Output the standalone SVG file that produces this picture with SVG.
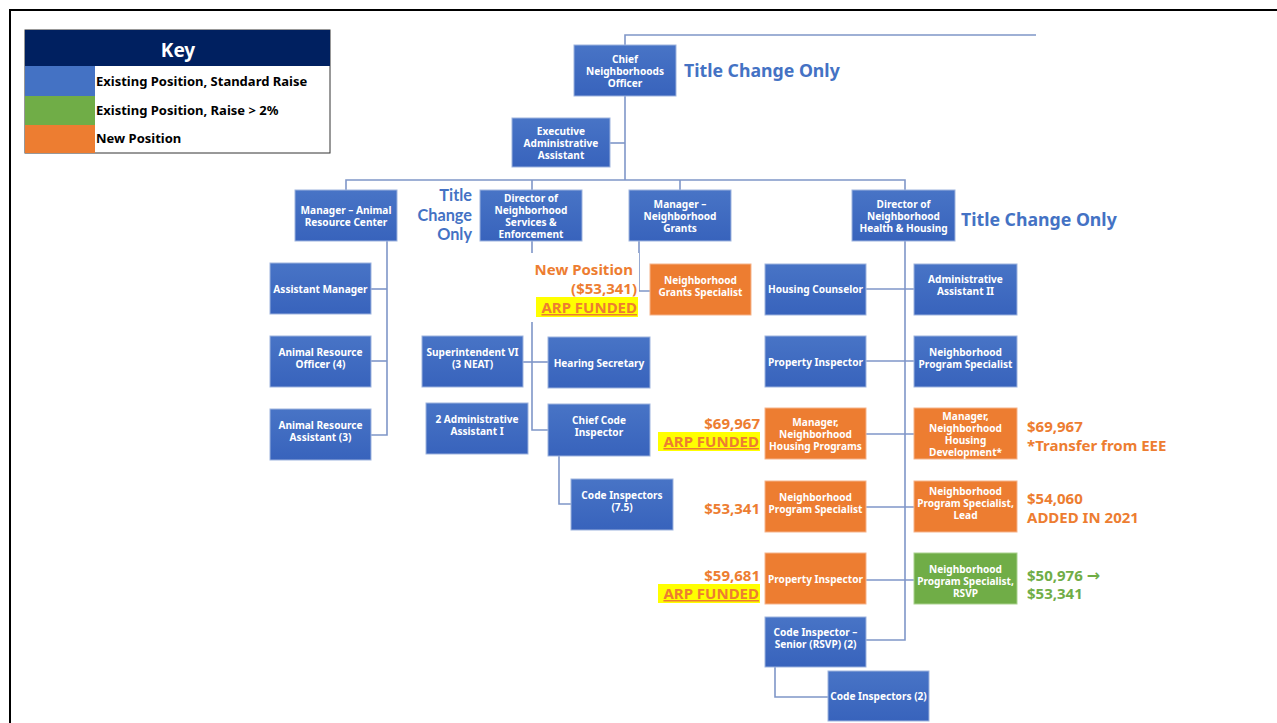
<svg xmlns="http://www.w3.org/2000/svg" width="1277" height="723" viewBox="0 0 1277 723">
<defs>
<linearGradient id="gb" x1="0" y1="0" x2="0" y2="1"><stop offset="0" stop-color="#4874C6"/><stop offset="1" stop-color="#3863BC"/></linearGradient>
<style>
.b{fill:url(#gb);stroke:#9DB3DE;stroke-width:1}
.o{fill:#ED7D31;stroke:#F5B38A;stroke-width:1}
.g{fill:#70AD47;stroke:#A9D18E;stroke-width:1}
.t{font-family:"Noto Sans","Open Sans",sans-serif;font-weight:bold;font-size:10.1px;fill:#FFFFFF;text-anchor:middle}
.c{fill:none;stroke:#7F96C8;stroke-width:1.6}
.lb{font-family:"Noto Sans","Open Sans",sans-serif;font-weight:bold;font-size:17.7px;fill:#4472C4}
.lo{font-family:"Noto Sans","Open Sans",sans-serif;font-weight:bold;font-size:15px;fill:#ED7D31}
.lg{font-family:"Noto Sans","Open Sans",sans-serif;font-weight:bold;font-size:15px;fill:#70AD47}
.hl{fill:#FFFF00}
.k{font-family:"Noto Sans","Open Sans",sans-serif;font-weight:bold;font-size:13px;fill:#000000}
</style>
</defs>
<rect x="0" y="0" width="1277" height="723" fill="#FFFFFF"/>
<path d="M10 723 V10 H1277" fill="none" stroke="#000000" stroke-width="2"/>

<g id="key">
<rect x="25" y="30" width="305" height="123" fill="#FFFFFF" stroke="#333333" stroke-width="1"/>
<rect x="25" y="30" width="305" height="36" fill="#002060"/>
<text x="178" y="57" font-family="Noto Sans, sans-serif" font-weight="bold" font-size="19" fill="#FFFFFF" text-anchor="middle">Key</text>
<rect x="25" y="66" width="70" height="30" fill="#4472C4"/>
<rect x="25" y="96" width="70" height="29" fill="#70AD47"/>
<rect x="25" y="125" width="70" height="28" fill="#ED7D31"/>
<text class="k" x="96" y="86">Existing Position, Standard Raise</text>
<text class="k" x="96" y="115">Existing Position, Raise &gt; 2%</text>
<text class="k" x="96" y="143">New Position</text>
</g>

<g id="connectors">
<path class="c" d="M625 45 V35 H1036"/>
<path class="c" d="M625 96 V180"/>
<path class="c" d="M610 143 H625"/>
<path class="c" d="M346 190 V180 H905 V640 H866"/>
<path class="c" d="M532 180 V190"/>
<path class="c" d="M680 180 V190"/>
<path class="c" d="M387 241 V435 H371"/>
<path class="c" d="M371 289 H387"/>
<path class="c" d="M371 361 H387"/>
<path class="c" d="M532 241 V430 H548"/>
<path class="c" d="M523 362 H548"/>
<path class="c" d="M559 456 V504 H571"/>
<path class="c" d="M639 241 V291 H650"/>
<path class="c" d="M866 289 H914"/>
<path class="c" d="M866 361 H914"/>
<path class="c" d="M866 434 H914"/>
<path class="c" d="M866 507 H914"/>
<path class="c" d="M866 580 H914"/>
<path class="c" d="M775 667 V697 H828"/>
</g>

<g id="chief"><rect class="b" x="574" y="45" width="102" height="51"/>
<text class="t" x="625" y="62.5">Chief</text><text class="t" x="625" y="74.5">Neighborhoods</text><text class="t" x="625" y="86.5">Officer</text></g>
<text class="lb" x="684" y="77">Title Change Only</text>

<g id="exec"><rect class="b" x="512" y="118" width="98" height="49"/>
<text class="t" x="561" y="134.5">Executive</text><text class="t" x="561" y="146.5">Administrative</text><text class="t" x="561" y="158.5">Assistant</text></g>

<g id="mgr-animal"><rect class="b" x="295" y="190" width="102" height="51"/>
<text class="t" x="346" y="213.5">Manager – Animal</text><text class="t" x="346" y="225.5">Resource Center</text></g>

<g id="dir-nse"><rect class="b" x="480" y="190" width="102" height="51"/>
<text class="t" x="531" y="201.5">Director of</text><text class="t" x="531" y="213.5">Neighborhood</text><text class="t" x="531" y="225.5">Services &amp;</text><text class="t" x="531" y="237.5">Enforcement</text></g>
<text style="font-family:Lato,'Noto Sans',sans-serif;font-weight:bold;font-size:16.3px;fill:#4472C4" text-anchor="end"><tspan x="472" y="201">Title</tspan><tspan x="472" y="220.5">Change</tspan><tspan x="472" y="240">Only</tspan></text>

<g id="mgr-grants"><rect class="b" x="629" y="190" width="102" height="51"/>
<text class="t" x="680" y="207.5">Manager –</text><text class="t" x="680" y="219.5">Neighborhood</text><text class="t" x="680" y="231.5">Grants</text></g>

<g id="dir-nhh"><rect class="b" x="852" y="190" width="103" height="51"/>
<text class="t" x="903.5" y="207.5">Director of</text><text class="t" x="903.5" y="219.5">Neighborhood</text><text class="t" x="903.5" y="231.5">Health &amp; Housing</text></g>
<text class="lb" x="961" y="226">Title Change Only</text>

<g id="asst-mgr"><rect class="b" x="270" y="263" width="101" height="51"/>
<text class="t" x="320.5" y="292.5">Assistant Manager</text></g>
<g id="aro"><rect class="b" x="270" y="336" width="101" height="51"/>
<text class="t" x="320.5" y="355.5">Animal Resource</text><text class="t" x="320.5" y="367.5">Officer (4)</text></g>
<g id="ara"><rect class="b" x="270" y="409" width="101" height="51"/>
<text class="t" x="320.5" y="428.5">Animal Resource</text><text class="t" x="320.5" y="440.5">Assistant (3)</text></g>

<g id="new-pos-label">
<rect x="528" y="253" width="111" height="69" fill="#FFFFFF"/>
<text class="lo" x="633" y="275" text-anchor="end">New Position</text>
<text class="lo" x="637" y="294" text-anchor="end">($53,341)</text>
<rect class="hl" x="536" y="297" width="102" height="20"/>
<text class="lo" x="637" y="313" text-anchor="end" text-decoration="underline">ARP FUNDED</text>
</g>

<g id="grants-spec"><rect class="o" x="650" y="264" width="101" height="51"/>
<text class="t" x="700.5" y="283.5">Neighborhood</text><text class="t" x="700.5" y="295.5">Grants Specialist</text></g>

<g id="superintendent"><rect class="b" x="422" y="336" width="101" height="51"/>
<text class="t" x="472.5" y="355.5">Superintendent VI</text><text class="t" x="472.5" y="367.5">(3 NEAT)</text></g>
<g id="hearing-sec"><rect class="b" x="548" y="337" width="102" height="51"/>
<text class="t" x="599" y="366.5">Hearing Secretary</text></g>
<g id="admin-asst-1"><rect class="b" x="426" y="403" width="102" height="51"/>
<text class="t" x="477" y="422.5">2 Administrative</text><text class="t" x="477" y="434.5">Assistant I</text></g>
<g id="chief-code"><rect class="b" x="548" y="404" width="102" height="52"/>
<text class="t" x="599" y="424">Chief Code</text><text class="t" x="599" y="436">Inspector</text></g>
<g id="code-insp-75"><rect class="b" x="571" y="479" width="102" height="51"/>
<text class="t" x="622" y="498.5">Code Inspectors</text><text class="t" x="622" y="510.5">(7.5)</text></g>

<g id="housing-counselor"><rect class="b" x="765" y="264" width="101" height="51"/>
<text class="t" x="815.5" y="293">Housing Counselor</text></g>
<g id="admin-asst-2"><rect class="b" x="914" y="264" width="103" height="51"/>
<text class="t" x="965.5" y="283">Administrative</text><text class="t" x="965.5" y="295">Assistant II</text></g>
<g id="prop-insp-blue"><rect class="b" x="765" y="336" width="101" height="51"/>
<text class="t" x="815.5" y="365.5">Property Inspector</text></g>
<g id="nps-blue"><rect class="b" x="914" y="336" width="103" height="51"/>
<text class="t" x="965.5" y="355.5">Neighborhood</text><text class="t" x="965.5" y="367.5">Program Specialist</text></g>

<g id="mgr-nhp"><rect class="o" x="765" y="408" width="101" height="51"/>
<text class="t" x="815.5" y="425.5">Manager,</text><text class="t" x="815.5" y="437.5">Neighborhood</text><text class="t" x="815.5" y="449.5">Housing Programs</text></g>
<g id="mgr-nhd"><rect class="o" x="914" y="408" width="103" height="51"/>
<text class="t" x="965.5" y="419.5">Manager,</text><text class="t" x="965.5" y="431.5">Neighborhood</text><text class="t" x="965.5" y="443.5">Housing</text><text class="t" x="965.5" y="455.5">Development*</text></g>
<g id="nps-orange"><rect class="o" x="765" y="481" width="101" height="51"/>
<text class="t" x="815.5" y="500.5">Neighborhood</text><text class="t" x="815.5" y="512.5">Program Specialist</text></g>
<g id="nps-lead"><rect class="o" x="914" y="481" width="103" height="51"/>
<text class="t" x="965.5" y="494.5">Neighborhood</text><text class="t" x="965.5" y="506.5">Program Specialist,</text><text class="t" x="965.5" y="518.5">Lead</text></g>
<g id="prop-insp-orange"><rect class="o" x="765" y="553" width="101" height="51"/>
<text class="t" x="815.5" y="582.5">Property Inspector</text></g>
<g id="nps-rsvp"><rect class="g" x="914" y="553" width="103" height="51"/>
<text class="t" x="965.5" y="572.5">Neighborhood</text><text class="t" x="965.5" y="584.5">Program Specialist,</text><text class="t" x="965.5" y="596.5">RSVP</text></g>
<g id="code-insp-senior"><rect class="b" x="765" y="617" width="101" height="50"/>
<text class="t" x="815.5" y="636">Code Inspector –</text><text class="t" x="815.5" y="648">Senior (RSVP) (2)</text></g>
<g id="code-insp-2"><rect class="b" x="828" y="671" width="101" height="50"/>
<text class="t" x="878.5" y="700">Code Inspectors (2)</text></g>

<g id="labels">
<text class="lo" x="760" y="429" text-anchor="end">$69,967</text>
<rect class="hl" x="658" y="432" width="102" height="19"/>
<text class="lo" x="759" y="447" text-anchor="end" text-decoration="underline">ARP FUNDED</text>
<text class="lo" x="1027" y="432">$69,967</text>
<text class="lo" x="1027" y="451">*Transfer from EEE</text>
<text class="lo" x="760" y="514" text-anchor="end">$53,341</text>
<text class="lo" x="1027" y="504">$54,060</text>
<text class="lo" x="1027" y="523">ADDED IN 2021</text>
<text class="lo" x="760" y="581" text-anchor="end">$59,681</text>
<rect class="hl" x="658" y="584" width="102" height="19"/>
<text class="lo" x="759" y="599" text-anchor="end" text-decoration="underline">ARP FUNDED</text>
<text class="lg" x="1027" y="581">$50,976 <tspan font-family="DejaVu Sans, sans-serif" font-size="16">→</tspan></text>
<text class="lg" x="1027" y="599">$53,341</text>
</g>
</svg>
